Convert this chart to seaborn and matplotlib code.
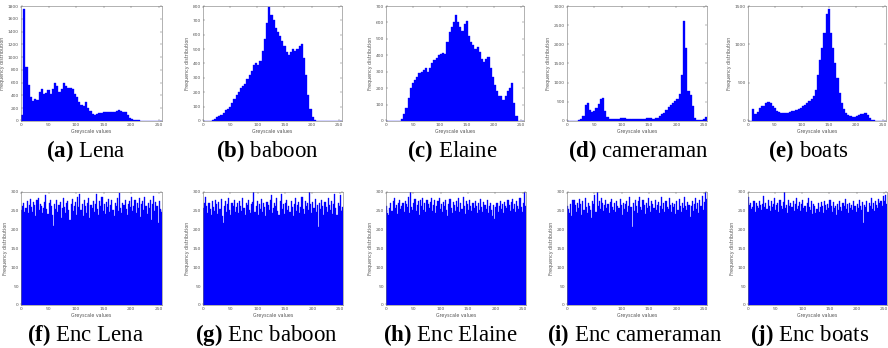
import numpy as np
import pandas as pd
import matplotlib
matplotlib.use("Agg")
import matplotlib.pyplot as plt
import seaborn as sns

sns.set_theme(style="white")
plt.rcParams["font.family"] = ["DejaVu Sans"]
plt.rcParams["mathtext.fontset"] = "custom"
plt.rcParams["mathtext.rm"] = "Liberation Serif"
plt.rcParams["mathtext.bf"] = "Liberation Serif:bold"

# ---------------- data (histograms, 4-level bins for plain, 2-level bins for encrypted)
lena = [100, 1750, 850, 560, 380, 320, 350, 330, 460, 500, 420, 440, 480, 430, 500, 600,
        540, 450, 500, 600, 540, 520, 520, 500, 430, 380, 300, 250, 230, 300, 200, 150,
        110, 100, 110, 120, 130, 140, 135, 140, 135, 140, 145, 150, 165, 150, 145, 135,
        100, 40, 25, 15, 10, 8, 5, 3, 0, 0, 0, 0, 0, 0, 0, 0]
baboon = [0, 0, 0, 3, 8, 15, 25, 35, 45, 55, 75, 80, 100, 125, 150, 180,
          205, 230, 240, 260, 290, 320, 350, 390, 400, 390, 420, 490, 570, 680, 790, 740,
          700, 650, 620, 590, 560, 520, 480, 460, 480, 500, 490, 500, 520, 535, 440, 320,
          180, 80, 30, 8, 0, 0, 0, 0, 0, 0, 0, 0, 0, 0, 0, 0]
elaine = [0, 0, 0, 0, 0, 0, 2, 15, 40, 80, 140, 200, 230, 250, 270, 290,
          300, 310, 320, 300, 320, 350, 370, 385, 400, 410, 415, 410, 480, 540, 570, 600,
          645, 600, 570, 550, 590, 610, 520, 480, 460, 440, 450, 420, 380, 360, 380, 390,
          320, 270, 220, 180, 155, 150, 130, 150, 185, 200, 230, 110, 30, 3, 0, 0]
cameraman = [0, 0, 0, 5, 10, 25, 60, 120, 430, 470, 290, 230, 270, 330, 440, 570,
             590, 250, 100, 60, 55, 55, 60, 60, 70, 75, 70, 65, 60, 60, 55, 55,
             60, 65, 60, 65, 70, 75, 70, 65, 75, 90, 140, 180, 220, 290, 360, 410,
             470, 520, 580, 700, 1200, 2600, 1900, 780, 680, 400, 80, 30, 25, 30, 60, 100]
boats = [0, 0, 150, 90, 120, 170, 200, 200, 230, 250, 230, 200, 165, 135, 120, 110,
         100, 105, 110, 115, 125, 130, 140, 155, 170, 190, 210, 240, 265, 290, 320, 400,
         600, 800, 950, 1150, 1400, 1460, 1150, 950, 750, 560, 370, 240, 150, 110, 80, 60,
         50, 50, 60, 75, 85, 90, 100, 80, 35, 15, 8, 4, 0, 0, 0, 0]

enc_lena = [252, 264, 271, 246, 258, 276, 243, 266, 281, 259, 248, 273, 265, 236, 278, 285,
            251, 269, 262, 245, 257, 274, 292, 256, 241, 271, 279, 263, 238, 210, 268, 255,
            280, 247, 266, 273, 232, 258, 284, 261, 244, 270, 276, 253, 226, 267, 282, 249,
            263, 274, 240, 288, 259, 294, 251, 268, 236, 279, 262, 245, 271, 283, 230, 266,
            257, 275, 248, 269, 296, 254, 239, 277, 263, 286, 250, 268, 242, 273, 260, 281,
            246, 265, 278, 253, 235, 271, 262, 284, 249, 297, 258, 243, 272, 266, 280, 255,
            238, 269, 276, 261, 287, 250, 264, 279, 244, 270, 258, 283, 234, 267, 275, 252,
            286, 263, 241, 272, 257, 280, 225, 268, 290, 249, 274, 262, 219, 277, 256, 248]
enc_baboon = [258, 272, 286, 263, 245, 270, 254, 238, 276, 261, 249, 279, 267, 242, 273, 256,
              281, 236, 217, 262, 275, 248, 269, 283, 251, 240, 272, 264, 278, 246, 259, 270,
              243, 276, 262, 250, 285, 257, 238, 271, 266, 280, 253, 244, 268, 274, 300, 248,
              263, 277, 239, 269, 255, 282, 247, 271, 260, 236, 274, 266, 251, 279, 293, 244,
              258, 270, 263, 285, 249, 238, 275, 295, 256, 267, 242, 272, 280, 253, 264, 246,
              277, 259, 237, 269, 283, 250, 266, 274, 245, 261, 288, 256, 241, 276, 263, 270,
              252, 299, 267, 244, 273, 258, 281, 248, 265, 206, 270, 255, 278, 262, 238, 274,
              260, 247, 285, 266, 253, 276, 242, 269, 294, 257, 238, 271, 263, 292, 249, 259]
enc_elaine = [262, 245, 238, 257, 271, 249, 276, 283, 258, 266, 241, 272, 279, 254, 263, 270,
              248, 275, 268, 259, 287, 244, 300, 261, 253, 270, 282, 249, 265, 276, 240, 279,
              263, 284, 252, 271, 246, 280, 267, 258, 274, 285, 250, 266, 278, 243, 262, 276,
              283, 255, 269, 247, 273, 262, 279, 251, 236, 268, 281, 257, 244, 274, 266, 250,
              277, 261, 283, 247, 270, 256, 288, 264, 242, 275, 268, 253, 280, 262, 249, 271,
              258, 276, 264, 245, 270, 253, 282, 261, 247, 273, 266, 255, 278, 243, 262, 270,
              251, 236, 265, 229, 259, 272, 248, 263, 277, 255, 268, 244, 274, 262, 257, 279,
              266, 249, 273, 281, 255, 268, 246, 277, 263, 254, 285, 260, 248, 271, 300, 264]
enc_cameraman = [262, 255, 243, 267, 236, 278, 280, 265, 248, 272, 257, 281, 269, 238, 276, 253,
                 284, 260, 245, 271, 264, 252, 232, 275, 268, 293, 246, 300, 262, 277, 256, 283,
                 271, 249, 266, 278, 257, 268, 244, 274, 282, 261, 253, 270, 246, 276, 263, 258,
                 281, 265, 239, 272, 254, 268, 276, 248, 263, 287, 259, 207, 271, 250, 280, 264,
                 245, 276, 288, 260, 253, 278, 266, 241, 272, 258, 284, 263, 247, 275, 269, 257,
                 280, 252, 266, 274, 243, 262, 287, 256, 270, 248, 277, 261, 254, 283, 265, 246,
                 272, 259, 268, 242, 275, 253, 281, 264, 248, 270, 257, 286, 262, 251, 274, 266,
                 233, 262, 277, 249, 268, 284, 255, 271, 243, 279, 262, 290, 253, 274, 300, 281]
enc_boats = [288, 266, 272, 254, 261, 276, 248, 270, 263, 257, 275, 266, 252, 268, 290, 259,
             271, 256, 280, 263, 249, 276, 261, 269, 283, 253, 266, 272, 247, 278, 262, 255,
             274, 300, 258, 266, 245, 280, 263, 271, 259, 276, 249, 268, 285, 255, 262, 273,
             250, 267, 279, 258, 264, 246, 272, 283, 260, 253, 276, 241, 268, 262, 244, 255,
             270, 248, 259, 274, 262, 243, 277, 266, 251, 269, 258, 280, 264, 246, 273, 257,
             262, 238, 268, 253, 275, 260, 249, 270, 264, 281, 255, 267, 244, 272, 258, 266,
             251, 276, 262, 247, 269, 257, 280, 263, 252, 273, 218, 266, 259, 275, 248, 270,
             263, 284, 256, 271, 249, 277, 266, 258, 282, 270, 276, 262, 289, 275, 291, 268]

top_series = [lena, baboon, elaine, cameraman, boats]
bot_series = [enc_lena, enc_baboon, enc_elaine, enc_cameraman, enc_boats]
top_ylims = [1800, 800, 700, 3000, 1500]
top_ysteps = [200, 100, 100, 500, 500]
top_captions = [r"$\mathbf{(a)}$ Lena", r"$\mathbf{(b)}$ baboon", r"$\mathbf{(c)}$ Elaine",
                r"$\mathbf{(d)}$ cameraman", r"$\mathbf{(e)}$ boats"]
bot_captions = [r"$\mathbf{(f)}$ Enc Lena", r"$\mathbf{(g)}$ Enc baboon", r"$\mathbf{(h)}$ Enc Elaine",
                r"$\mathbf{(i)}$ Enc cameraman", r"$\mathbf{(j)}$ Enc boats"]
xlabel = "Greyscale values"
ylabel = "Frequency distribution"

# ---------------- layout
W, H = 888, 348
fig = plt.figure(figsize=(W / 100, H / 100), dpi=100)
cols_top = [(21, 162), (203, 342), (386, 524), (567, 707), (748, 886)]
cols_bot = [(21, 162), (203, 343), (386, 526), (567, 707), (748, 887)]
top_y = (6, 121)
bot_y = (192, 305)
cap_x_top = [86, 267, 452, 638, 808]
cap_x_bot = [86, 266, 450, 635, 810]
cap_y_top = 151
cap_y_bot = 335


def make_ax(xr, yr):
    x0, x1 = xr
    y0, y1 = yr
    return fig.add_axes([x0 / W, 1 - y1 / H, (x1 - x0) / W, (y1 - y0) / H])


def draw(ax, values, binw, ymax, ystep):
    n = len(values)
    levels = [binw * k + binw / 2 for k in range(n)]
    df = pd.DataFrame({"level": levels, "count": values})
    sns.histplot(data=df, x="level", weights="count", binwidth=binw, binrange=(0, 256),
                 ax=ax, color="#0000ff", alpha=1.0, linewidth=0.25, edgecolor="#0000ff",
                 element="bars")
    ax.set_xlim(0, 256)
    ax.set_ylim(0, ymax)
    ax.set_xticks(np.arange(0, 251, 50))
    ax.set_yticks(np.arange(0, ymax + 1, ystep))
    ax.tick_params(axis="both", which="both", direction="in", length=1.5, width=0.3,
                   labelsize=3.2, pad=1.5, colors="#555555", top=True, right=True,
                   bottom=True, left=True)
    ax.set_xlabel(xlabel, fontsize=3.4, labelpad=1.5, color="#555555")
    ax.set_ylabel(ylabel, fontsize=3.4, labelpad=2, color="#555555")
    for s in ax.spines.values():
        s.set_linewidth(0.4)
        s.set_color("#777777")
        s.set_visible(True)
    ax.set_facecolor("white")


for i in range(5):
    ax = make_ax(cols_top[i], top_y)
    draw(ax, top_series[i], 4, top_ylims[i], top_ysteps[i])
    fig.text(cap_x_top[i] / W, 1 - cap_y_top / H, top_captions[i], ha="center", va="center",
             fontsize=16.5, family="Liberation Serif", color="black")
    ax = make_ax(cols_bot[i], bot_y)
    draw(ax, bot_series[i], 2, 300, 50)
    fig.text(cap_x_bot[i] / W, 1 - cap_y_bot / H, bot_captions[i], ha="center", va="center",
             fontsize=16.5, family="Liberation Serif", color="black")

fig.savefig("out.png", dpi=100, facecolor="white")
